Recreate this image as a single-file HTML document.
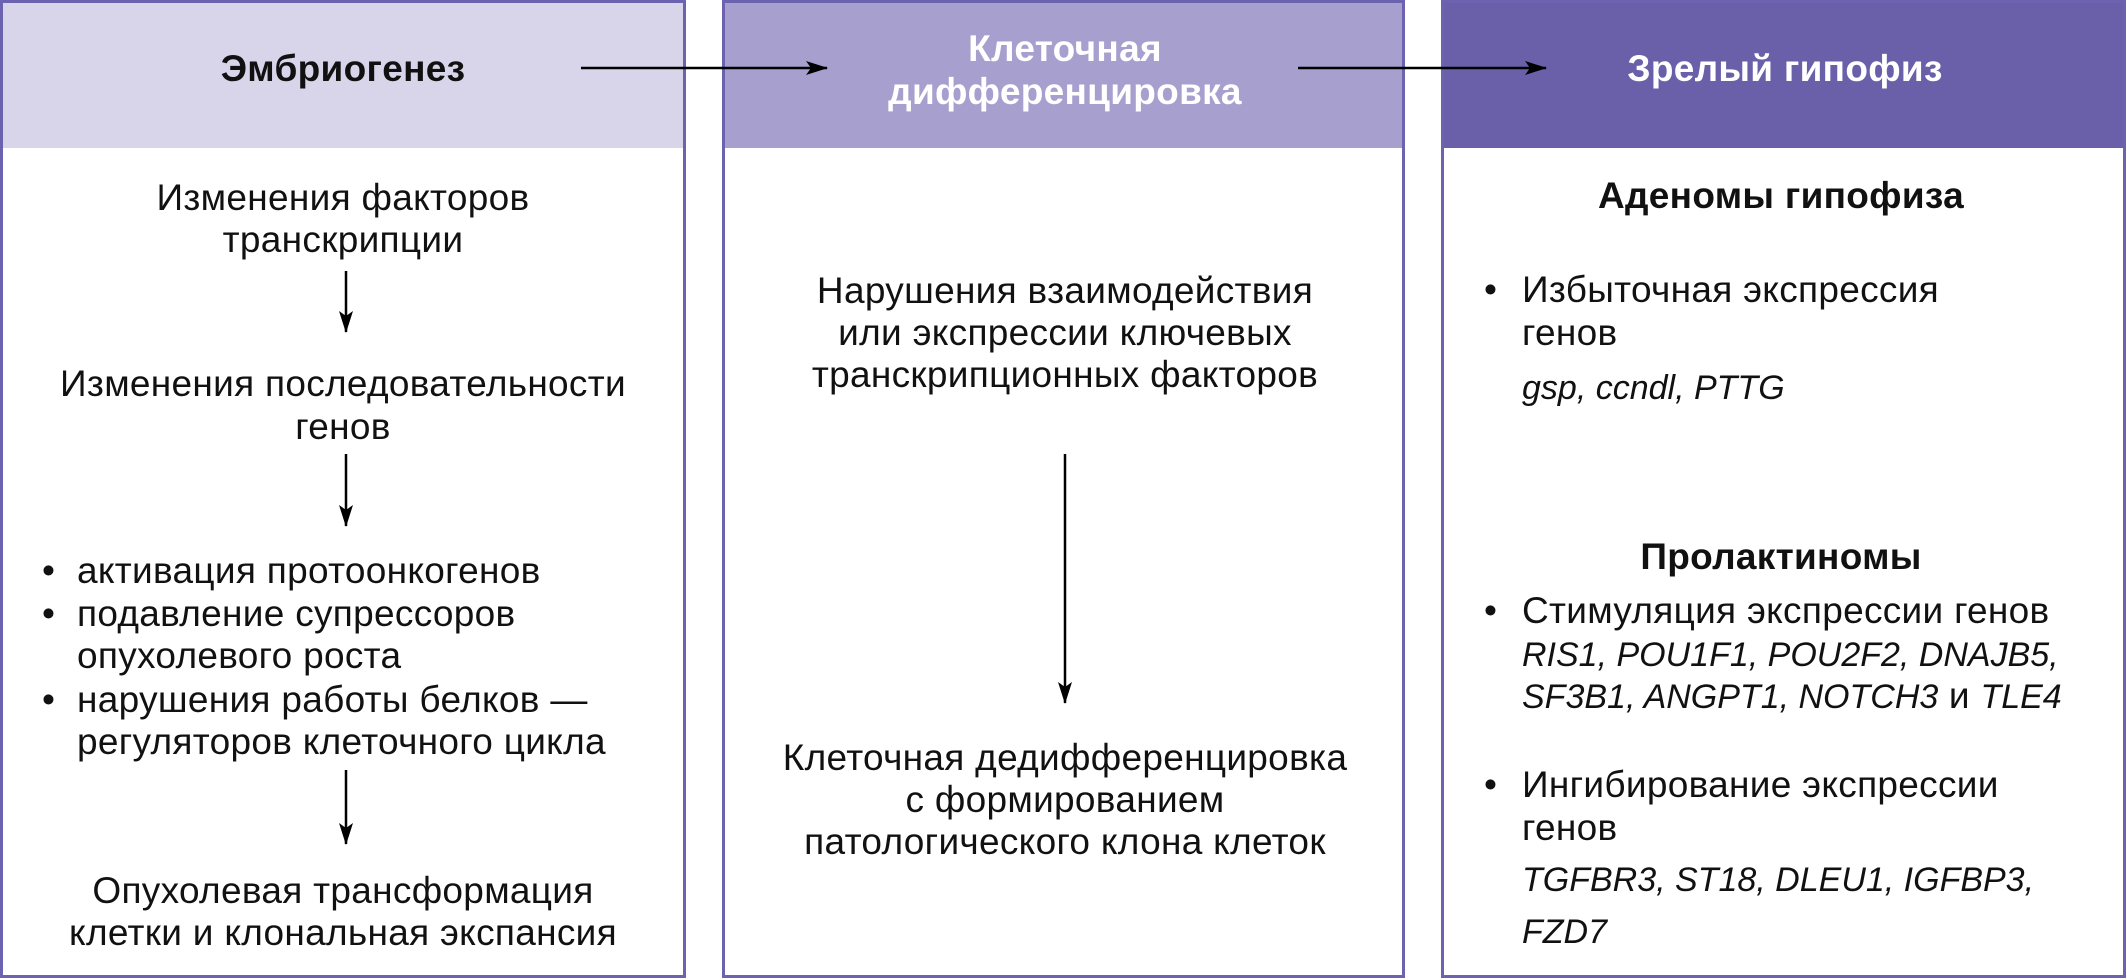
<!DOCTYPE html>
<html><head><meta charset="utf-8"><style>
html,body{margin:0;padding:0;background:#fff;}
svg{display:block}
text{font-family:"Liberation Sans",sans-serif;font-size:37px;fill:#111;letter-spacing:0.3px}
.b{font-weight:bold;font-size:37px}
.w{fill:#fff}
.i{font-style:italic;font-size:34px;letter-spacing:0}
</style></head><body>
<svg width="2127" height="980" viewBox="0 0 2127 980" xmlns="http://www.w3.org/2000/svg">
<defs><marker id="a" markerWidth="22" markerHeight="14" refX="21" refY="7" orient="auto" markerUnits="userSpaceOnUse"><path d="M0,0 L22,7 L0,14 L5,7 z" fill="#000"/></marker></defs>
<rect x="1.5" y="1.5" width="683" height="975" fill="#fff" stroke="#6b62b0" stroke-width="3"/>
<rect x="3" y="3" width="680" height="145" fill="#d8d4ea"/>
<rect x="723.5" y="1.5" width="680" height="975" fill="#fff" stroke="#6b62b0" stroke-width="3"/>
<rect x="725" y="3" width="677" height="145" fill="#a7a0cf"/>
<rect x="1442.5" y="1.5" width="682" height="975" fill="#fff" stroke="#6b62b0" stroke-width="3"/>
<rect x="1444" y="3" width="679" height="145" fill="#6a60aa"/>
<line x1="581" y1="68" x2="827" y2="68" stroke="#000" stroke-width="2.5" marker-end="url(#a)"/>
<line x1="1298" y1="68" x2="1546" y2="68" stroke="#000" stroke-width="2.5" marker-end="url(#a)"/>
<text class="b" x="343" y="81" text-anchor="middle">Эмбриогенез</text>
<text class="b w" x="1065" y="61" text-anchor="middle">Клеточная</text>
<text class="b w" x="1065" y="104" text-anchor="middle">дифференцировка</text>
<text class="b w" x="1785" y="81" text-anchor="middle">Зрелый гипофиз</text>
<g text-anchor="middle">
<text x="343" y="210">Изменения факторов</text>
<text x="343" y="252">транскрипции</text>
<text x="343" y="396">Изменения последовательности</text>
<text x="343" y="439">генов</text>
<text x="343" y="903">Опухолевая трансформация</text>
<text x="343" y="945">клетки и клональная экспансия</text>
</g>
<line x1="346" y1="271" x2="346" y2="332" stroke="#000" stroke-width="2.5" marker-end="url(#a)"/>
<line x1="346" y1="454" x2="346" y2="526" stroke="#000" stroke-width="2.5" marker-end="url(#a)"/>
<line x1="346" y1="770" x2="346" y2="844" stroke="#000" stroke-width="2.5" marker-end="url(#a)"/>
<text x="42" y="583">•</text><text x="77" y="583">активация протоонкогенов</text>
<text x="42" y="626">•</text><text x="77" y="626">подавление супрессоров</text>
<text x="77" y="668">опухолевого роста</text>
<text x="42" y="712">•</text><text x="77" y="712">нарушения работы белков —</text>
<text x="77" y="754">регуляторов клеточного цикла</text>
<g text-anchor="middle">
<text x="1065" y="303">Нарушения взаимодействия</text>
<text x="1065" y="345">или экспрессии ключевых</text>
<text x="1065" y="387">транскрипционных факторов</text>
<text x="1065" y="770">Клеточная дедифференцировка</text>
<text x="1065" y="812">с формированием</text>
<text x="1065" y="854">патологического клона клеток</text>
</g>
<line x1="1065" y1="454" x2="1065" y2="703" stroke="#000" stroke-width="2.5" marker-end="url(#a)"/>
<text class="b" x="1781" y="208" text-anchor="middle">Аденомы гипофиза</text>
<text x="1484" y="302">•</text><text x="1522" y="302">Избыточная экспрессия</text>
<text x="1522" y="345">генов</text>
<text class="i" x="1522" y="399">gsp, ccndl, PTTG</text>
<text class="b" x="1781" y="569" text-anchor="middle">Пролактиномы</text>
<text x="1484" y="623">•</text><text x="1522" y="623">Стимуляция экспрессии генов</text>
<text class="i" x="1522" y="666">RIS1, POU1F1, POU2F2, DNAJB5,</text>
<text x="1522" y="708"><tspan class="i">SF3B1, ANGPT1, NOTCH3</tspan> и <tspan class="i">TLE4</tspan></text>
<text x="1484" y="797">•</text><text x="1522" y="797">Ингибирование экспрессии</text>
<text x="1522" y="840">генов</text>
<text class="i" x="1522" y="891">TGFBR3, ST18, DLEU1, IGFBP3,</text>
<text class="i" x="1522" y="943">FZD7</text>
</svg>
</body></html>
